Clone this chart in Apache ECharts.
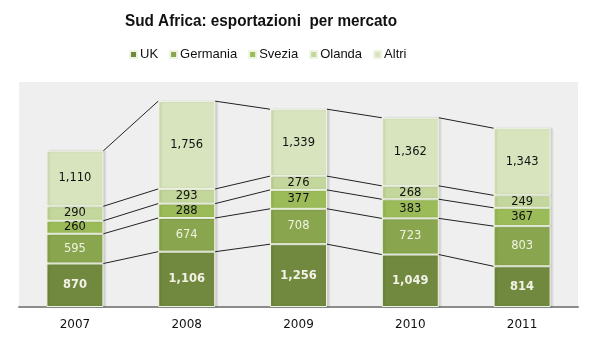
<!DOCTYPE html>
<html><head><meta charset="utf-8">
<script src="https://cdn.jsdelivr.net/npm/echarts@6/dist/echarts.min.js"></script>
<style>html,body{margin:0;padding:0;background:#fff}#c{width:597px;height:354px}</style>
</head><body><div id="c"></div>
<script>
var titleText = 'Sud Africa: esportazioni  per mercato';
var categories = ['2007','2008','2009','2010','2011'];
var seriesNames = ['UK','Germania','Svezia','Olanda','Altri'];
var uk = [870,1106,1256,1049,814];
var germania = [595,674,708,723,803];
var svezia = [260,288,377,383,367];
var olanda = [290,293,276,268,249];
var altri = [1110,1756,1339,1362,1343];

var allData = [uk, germania, svezia, olanda, altri];
var colors = ['#71893f','#89a54e','#9bbb59','#c3d69b','#d7e4bd'];
var labelColors = ['#f2f2e6','#eef3e2','#111','#111','#111'];
var labelBold = ['bold','normal','normal','normal','normal'];
var BAR_FRAC = 0.51;

function cum(i, k){ var s=0; for(var j=0;j<=k;j++) s+=allData[j][i]; return s; }

var series = seriesNames.map(function(n, k){
  return {
    name: n, type: 'bar', stack: 'tot', barWidth: (BAR_FRAC*100)+'%',
    data: allData[k],
    itemStyle: {color: colors[k], borderColor: '#eef4e2', borderWidth: 1,
      shadowColor: 'rgba(0,0,0,0.13)', shadowBlur: 2, shadowOffsetX: 2, shadowOffsetY: 0},
    label: {show: true, position: 'inside', color: labelColors[k], fontWeight: labelBold[k],
      fontFamily: 'DejaVu Sans', fontSize: 11.5,
      formatter: function(p){ return p.value.toLocaleString('en-US'); }},
    emphasis: {disabled: true}
  };
});

var linkData = [];
for (var i=0;i<categories.length-1;i++) for (var k=0;k<5;k++) linkData.push([i,k]);
series.push({
  type: 'custom', name: 'links', silent: true, z: 5,
  data: linkData,
  renderItem: function(params, api){
    var i = api.value(0), k = api.value(1);
    var half = api.size([1,0])[0]*BAR_FRAC/2;
    var p1 = api.coord([i, cum(i,k)]);
    var p2 = api.coord([i+1, cum(i+1,k)]);
    return {type:'line', shape:{x1:p1[0]+half, y1:p1[1], x2:p2[0]-half, y2:p2[1]},
      style:{stroke:'#222', lineWidth:1}};
  }
});

var chart = echarts.init(document.getElementById('c'), null, {renderer:'canvas'});
chart.setOption({
  animation: false,
  backgroundColor: '#fff',
  graphic: [{type: 'text', x: 261, y: 21, scaleX: 0.9, silent: true,
    style: {text: titleText, textAlign: 'center', textVerticalAlign: 'middle',
      font: 'bold 17px "Liberation Sans"', fill: '#111'}}],
  legend: {data: seriesNames, top: 48, left: 129, padding: 0, itemWidth: 7, itemHeight: 7, itemGap: 11,
    icon: 'rect',
    textStyle: {fontFamily: 'Liberation Sans', fontSize: 13, color: '#111', padding: [0,0,0,-2]}},
  grid: {left: 19, right: 19, top: 82, bottom: 47, backgroundColor: '#efefef', show: true, borderWidth: 0},
  xAxis: {type: 'category', data: categories,
    axisLine: {lineStyle: {color: '#8c8c8c', width: 2}}, axisTick: {show: false},
    axisLabel: {fontFamily: 'DejaVu Sans', fontSize: 12, color: '#111', margin: 12}},
  yAxis: {type: 'value', min: 0, max: 4500, show: false, splitLine: {show: false}},
  series: series
});
</script></body></html>
